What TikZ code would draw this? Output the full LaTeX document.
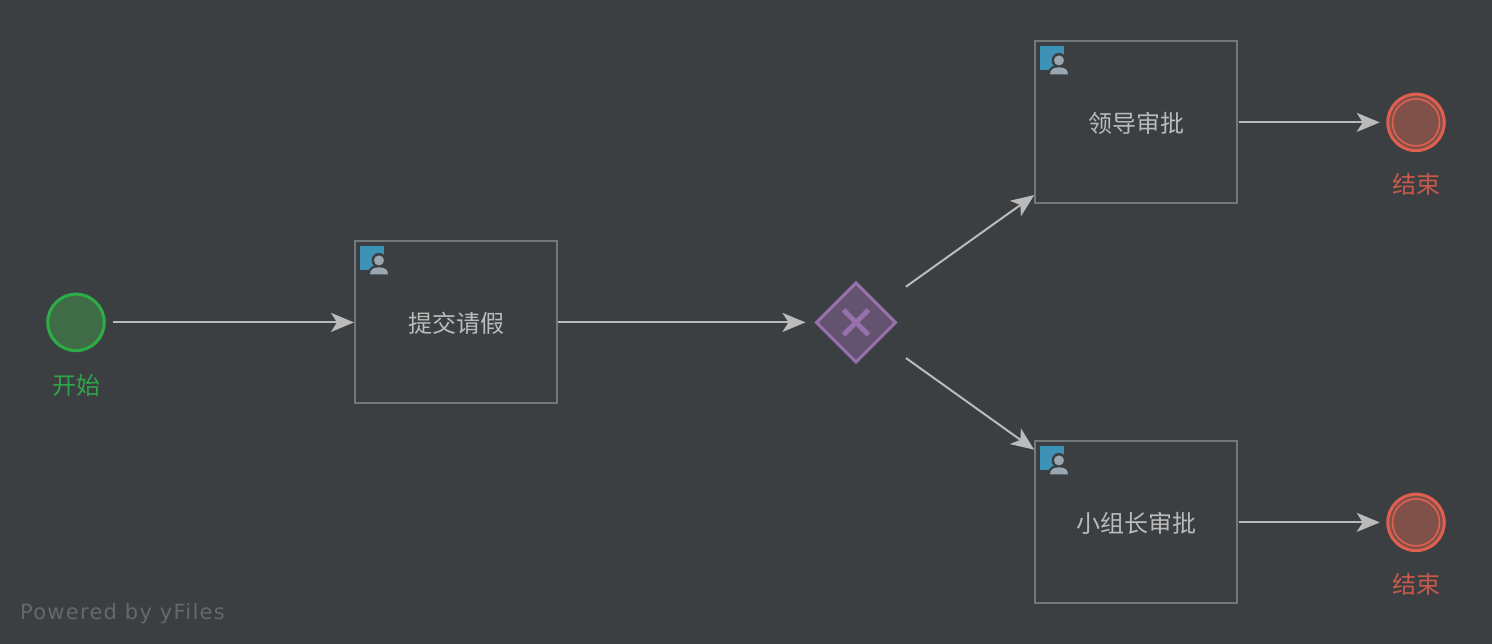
\documentclass[tikz,border=0pt]{standalone}
\usepackage{fontspec}
\usetikzlibrary{arrows.meta,shapes.geometric}
\newfontfamily\cjk{Noto Sans CJK SC}
\newfontfamily\wm[LetterSpace=6]{DejaVu Sans}
\definecolor{bg}{HTML}{3C3F41}
\definecolor{edgec}{HTML}{BBBBBB}
\definecolor{boxc}{HTML}{75787A}
\definecolor{greenb}{HTML}{2EAD47}
\definecolor{greenf}{HTML}{3F6B47}
\definecolor{redb}{HTML}{E0604F}
\definecolor{redf}{HTML}{80504B}
\definecolor{redt}{HTML}{C85A4C}
\definecolor{greent}{HTML}{2EA548}
\definecolor{purb}{HTML}{9671AD}
\definecolor{purf}{HTML}{63536F}
\definecolor{iconb}{HTML}{3D93B5}
\definecolor{iconp}{HTML}{9AA7B0}
\definecolor{wmc}{HTML}{666869}
\newcommand{\tasktext}[1]{\raisebox{-1pt}[\height][\depth]{#1}}
\tikzset{
  x=1pt,y=-1pt,
  taskbox/.style={draw=boxc,line width=2pt,minimum width=202pt,minimum height=162pt,inner sep=0pt,outer sep=0pt,text=edgec,font=\cjk\fontsize{24}{28}\selectfont},
  startev/.style={circle,draw=greenb,fill=greenf,line width=3pt,minimum size=56.5pt,inner sep=0pt,outer sep=1pt},
  endev/.style={circle,draw=redb,fill=redf,line width=3pt,minimum size=56.5pt,inner sep=0pt,outer sep=1pt},
  gate/.style={diamond,draw=purb,fill=purf,line width=3pt,minimum width=79pt,minimum height=79pt,inner sep=0pt,outer sep=0pt},
  lab/.style={font=\cjk\fontsize{24}{28}\selectfont},
  flow/.style={draw=edgec,line width=2pt,-{Stealth[length=23pt,width=19pt,inset=6pt,fill=edgec]}},
  usericon/.pic={
    \fill[iconb] (0,0) rectangle (24,24);
    \fill[bg] (19,14) circle (7.5);
    \fill[bg] (8,28.2) .. controls (8,20) and (13,19) .. (19,19) .. controls (25,19) and (30,20) .. (30,28.2) -- cycle;
    \fill[iconp] (19,14) circle (5);
    \fill[iconp] (10,28) .. controls (10,22.5) and (14,21) .. (19,21) .. controls (24,21) and (28,22.5) .. (28,28) -- cycle;
  }
}
\begin{document}
\begin{tikzpicture}
\fill[bg] (0,0) rectangle (1492,644);
\useasboundingbox (0,0) rectangle (1492,644);

\node[startev] (start) at (76,322.4) {};
\node[lab,text=greent] (startl) at (76,385) {开始};
\node[taskbox] (submit) at (456,322.4) {\tasktext{提交请假}};
\pic at (submit.north west) [shift={(5,5)}] {usericon};
\node[gate] (gw) at (856,322.4) {};
\node[taskbox] (lead) at (1136,122.4) {\tasktext{领导审批}};
\pic at (lead.north west) [shift={(5,5)}] {usericon};
\node[taskbox] (team) at (1136,522.4) {\tasktext{小组长审批}};
\pic at (team.north west) [shift={(5,5)}] {usericon};
\node[endev] (end1) at (1416,122.4) {};
\draw[redb,line width=1.6pt] (end1.center) circle (23.5);
\node[lab,text=redt] (end1l) at (1416,184.6) {结束};
\node[endev] (end2) at (1416,522.4) {};
\draw[redb,line width=1.6pt] (end2.center) circle (23.5);
\node[lab,text=redt] (end2l) at (1416,584.6) {结束};

\draw[purb,line width=5pt] (843.5,309.9) -- (868.5,334.9) (868.5,309.9) -- (843.5,334.9);

\draw[flow,shorten <=8pt,shorten >=1pt] (start) -- (submit);
\draw[flow,shorten <=1pt,shorten >=11pt] (submit) -- (gw);
\draw[flow,shorten <=33pt,shorten >=1pt] (gw) -- (lead);
\draw[flow,shorten <=33pt,shorten >=1pt] (gw) -- (team);
\draw[flow,shorten <=1.5pt,shorten >=7pt] (lead) -- (end1);
\draw[flow,shorten <=1.5pt,shorten >=7pt] (team) -- (end2);

\node[anchor=base west,inner sep=0pt,text=wmc,font=\wm\fontsize{21}{24}\selectfont] (wm) at (20,619) {Powered by yFiles};
\end{tikzpicture}
\end{document}
